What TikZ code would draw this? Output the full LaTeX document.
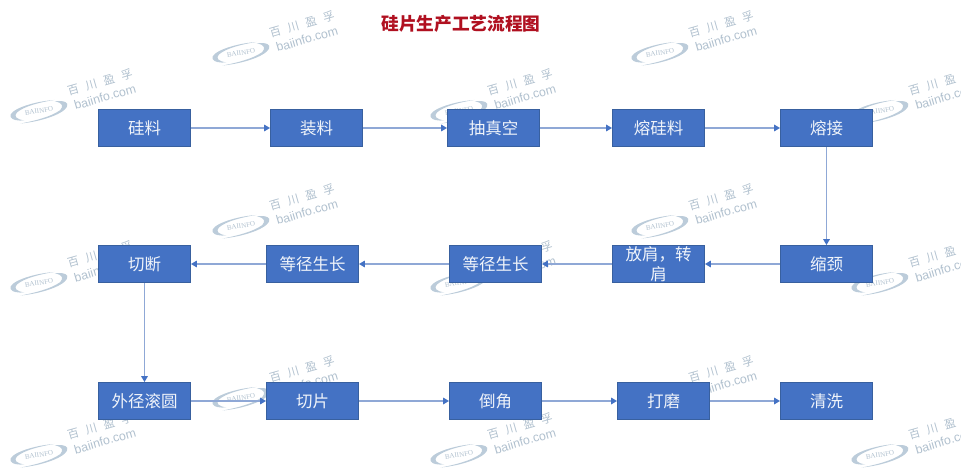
\documentclass[tikz,border=0pt]{standalone}
\usepackage{fontspec}
\setmainfont{Noto Sans CJK SC}
\newfontfamily\latinwm{Liberation Sans}
\newfontfamily\serifwm{Liberation Serif}
\usetikzlibrary{arrows.meta}
\definecolor{boxfill}{HTML}{4472C4}
\definecolor{boxline}{HTML}{38609F}
\definecolor{linkline}{HTML}{8FA8D6}
\definecolor{tipcol}{HTML}{4472C4}
\definecolor{titlered}{HTML}{B01020}
\definecolor{wmblue}{HTML}{BCCCDA}
\definecolor{wmtext}{HTML}{B0C0CE}
\tikzset{
  x=1pt,y=-1pt,
  stage/.style={draw=boxline,line width=0.8pt,fill=boxfill,text=white!92!boxfill,minimum width=92pt,minimum height=37pt,inner sep=0pt,font=\fontsize{16.5}{19.5}\selectfont,align=center,text width=90pt},
  link/.style={draw=linkline,line width=1.6pt,-{Triangle[length=6pt,width=6.5pt,color=tipcol]}},
  heading/.style={font=\fontsize{17.7}{20}\selectfont\bfseries,text=titlered,inner sep=0pt},
  wmcn/.style={font=\fontsize{11.5}{12}\selectfont,text=wmtext,inner sep=0pt},
  wmen/.style={font=\latinwm\fontsize{12.4}{14}\selectfont,text=wmtext,inner sep=0pt},
  wmlogo/.style={font=\serifwm\fontsize{7}{8}\selectfont,text=wmtext,inner sep=0pt},
  wm/.pic={
    \begin{scope}[rotate=9]
    \fill[wmblue] (17,-8.5) .. controls (-8,-10.5) and (-31,-5) .. (-29,1.5) .. controls (-28,5) and (-22,6.5) .. (-16,7) .. controls (-24,4.5) and (-26,1) .. (-22,-2) .. controls (-14,-7) and (2,-8.5) .. (17,-8.5) -- cycle;
    \fill[wmblue] (-20,9.5) .. controls (6,11) and (30,5) .. (29,-2.5) .. controls (28.5,-5.5) and (23,-7) .. (17,-7) .. controls (25,-4.5) and (25,-0.5) .. (21,2.5) .. controls (11,7.5) and (-5,9) .. (-20,9.5) -- cycle;
    \node[wmlogo,rotate=9] (-mark) at (0,0) {BAIINFO};
    \end{scope}
    \node[wmcn,rotate=16] (-cn) at (61,-29) {百\hspace{7pt}川\hspace{7pt}盈\hspace{7pt}孚};
    \node[wmen,rotate=16] (-en) at (66,-14) {baiinfo.com};
  }
}
\begin{document}
\begin{tikzpicture}
\useasboundingbox (0,0) rectangle (961,473);
\begin{scope}
\clip (0,0) rectangle (961,473);
\pic (wa) at (39,111) {wm};
\pic (wb) at (241,53) {wm};
\pic (wc) at (459,111) {wm};
\pic (wd) at (660,53) {wm};
\pic (we) at (880,111) {wm};
\pic (wf) at (39,283) {wm};
\pic (wg) at (241,226) {wm};
\pic (wh) at (459,283) {wm};
\pic (wi) at (660,226) {wm};
\pic (wj) at (880,283) {wm};
\pic (wk) at (39,455) {wm};
\pic (wl) at (241,398) {wm};
\pic (wm) at (459,455) {wm};
\pic (wn) at (660,398) {wm};
\pic (wo) at (880,455) {wm};
\end{scope}
\node[heading] (title) at (461,24) {硅片生产工艺流程图};
\node[stage] (a1) at (144.5,128) {硅料};
\node[stage] (a2) at (316.5,128) {装料};
\node[stage] (a3) at (493.5,128) {抽真空};
\node[stage] (a4) at (658.5,128) {熔硅料};
\node[stage] (a5) at (826.5,128) {熔接};
\node[stage] (b5) at (826.5,264) {缩颈};
\node[stage] (b4) at (658.5,264) {放肩，转\\肩};
\node[stage] (b3) at (495.5,264) {等径生长};
\node[stage] (b2) at (312.5,264) {等径生长};
\node[stage] (b1) at (144.5,264) {切断};
\node[stage] (c1) at (144.5,401) {外径滚圆};
\node[stage] (c2) at (312.5,401) {切片};
\node[stage] (c3) at (495.5,401) {倒角};
\node[stage] (c4) at (663.5,401) {打磨};
\node[stage] (c5) at (826.5,401) {清洗};
\draw[link] (a1) -- (a2);
\draw[link] (a2) -- (a3);
\draw[link] (a3) -- (a4);
\draw[link] (a4) -- (a5);
\draw[link] (a5) -- (b5);
\draw[link] (b5) -- (b4);
\draw[link] (b4) -- (b3);
\draw[link] (b3) -- (b2);
\draw[link] (b2) -- (b1);
\draw[link] (b1) -- (c1);
\draw[link] (c1) -- (c2);
\draw[link] (c2) -- (c3);
\draw[link] (c3) -- (c4);
\draw[link] (c4) -- (c5);
\end{tikzpicture}
\end{document}
